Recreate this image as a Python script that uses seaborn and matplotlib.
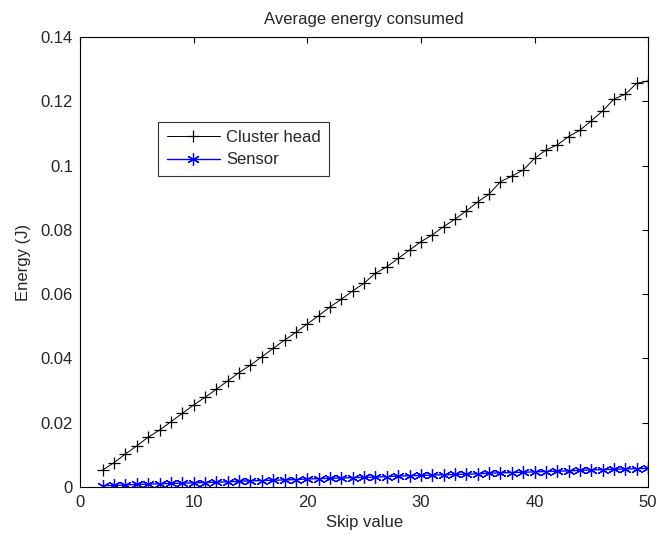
import pandas as pd
import seaborn as sns
import matplotlib.pyplot as plt

# --------------------------
# Dados
# --------------------------
skip = list(range(2, 51))

cluster_head = [0.0053, 0.0076, 0.0103, 0.0128, 0.0155, 0.0177, 0.0203, 0.0229, 0.0255,
                0.0279, 0.0304, 0.0330, 0.0356, 0.0379, 0.0405, 0.0431, 0.0457, 0.0481,
                0.0507, 0.0533, 0.0560, 0.0584, 0.0610, 0.0634, 0.0665, 0.0685, 0.0711,
                0.0737, 0.0763, 0.0784, 0.0810, 0.0833, 0.0859, 0.0887, 0.0911, 0.0950,
                0.0967, 0.0986, 0.1022, 0.1048, 0.1064, 0.1090, 0.1110, 0.1139, 0.1170,
                0.1207, 0.1222, 0.1256, 0.1263]

sensor = [0.0004, 0.0005, 0.0006, 0.0008, 0.0009, 0.0010, 0.0011, 0.0012, 0.0013,
          0.0014, 0.0015, 0.0016, 0.0018, 0.0019, 0.0020, 0.0021, 0.0022, 0.0023,
          0.0025, 0.0026, 0.0027, 0.0028, 0.0029, 0.0030, 0.0031, 0.0032, 0.0034,
          0.0035, 0.0036, 0.0037, 0.0038, 0.0039, 0.0040, 0.0041, 0.0043, 0.0044,
          0.0045, 0.0046, 0.0047, 0.0048, 0.0049, 0.0050, 0.0052, 0.0053, 0.0054,
          0.0055, 0.0056, 0.0057, 0.0058]

df = pd.DataFrame({'skip': skip, 'Cluster head': cluster_head, 'Sensor': sensor})

# --------------------------
# Estilo (aparência tipo MATLAB)
# --------------------------
sns.set_style('white')
plt.rcParams['font.family'] = ['Liberation Sans', 'DejaVu Sans']
plt.rcParams['xtick.direction'] = 'in'
plt.rcParams['ytick.direction'] = 'in'

FS = 12

fig = plt.figure(figsize=(6.58, 5.35), dpi=100)
ax = fig.add_axes([0.1216, 0.0897, 0.8634, 0.8413])

sns.lineplot(data=df, x='skip', y='Cluster head', ax=ax, color='black', linewidth=0.7,
             marker='+', markersize=8, markeredgewidth=0.9, markeredgecolor='black',
             label='Cluster head')
# asterisco estilo MATLAB
sns.lineplot(data=df, x='skip', y='Sensor', ax=ax, color='blue', linewidth=1.0,
             marker=(6, 2, 0), markersize=9, markeredgewidth=0.9,
             markeredgecolor='blue', label='Sensor')

ax.set_xlim(0, 50)
ax.set_ylim(0, 0.14)
ax.set_xticks([0, 10, 20, 30, 40, 50])
ax.set_yticks([0, 0.02, 0.04, 0.06, 0.08, 0.1, 0.12, 0.14])
ax.set_yticklabels(['0', '0.02', '0.04', '0.06', '0.08', '0.1', '0.12', '0.14'])
ax.tick_params(top=True, right=True, labelsize=FS, length=4, width=0.8, color='black')
ax.tick_params(axis='x', pad=6)
ax.tick_params(axis='y', pad=5)
for s in ax.spines.values():
    s.set_color('black')
    s.set_linewidth(0.8)

ax.set_title('Average energy consumed', fontsize=FS, pad=9)
ax.set_xlabel('Skip value', fontsize=FS, labelpad=3)
ax.set_ylabel('Energy (J)', fontsize=FS, labelpad=7)

leg = ax.legend(loc='upper left', bbox_to_anchor=(0.138, 0.812), fontsize=FS,
                frameon=True, fancybox=False, borderaxespad=0, handlelength=3.2,
                handletextpad=0.35, labelspacing=0.45, borderpad=0.5)
leg.get_frame().set_edgecolor('black')
leg.get_frame().set_linewidth(0.8)

plt.savefig('out.png', dpi=100)
